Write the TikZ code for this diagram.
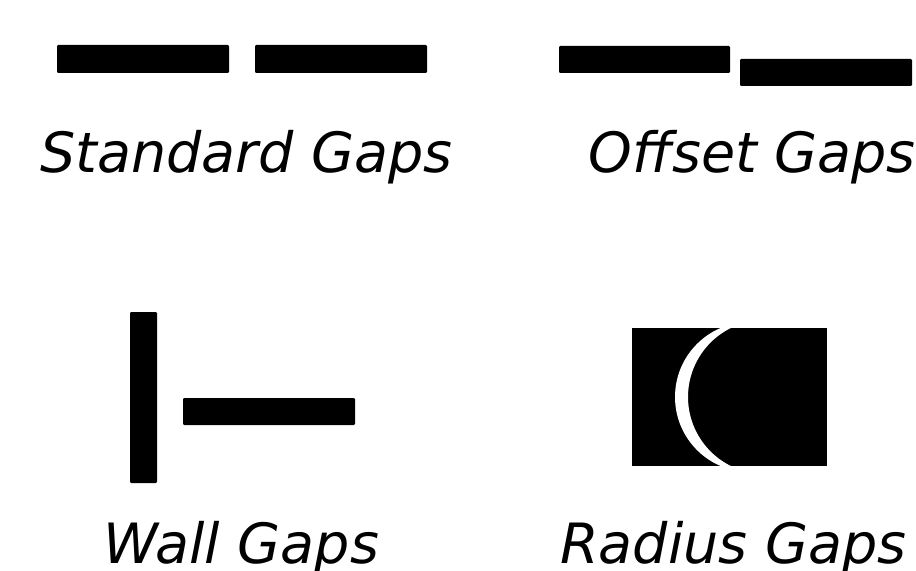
\documentclass[tikz,border=0pt]{standalone}
\usepackage{fontspec}
\setmainfont{DejaVu Sans}
\usetikzlibrary{positioning}

\begin{document}
\begin{tikzpicture}[
  x=0.02cm, y=-0.02cm,
  bar/.style={fill=black, rounded corners=0.6pt},
  caption/.style={font=\fontsize{31.6}{35}\selectfont\itshape,
                  inner sep=0pt, anchor=base west},
]
\useasboundingbox (0,0) rectangle (916,571);

%% -- Standard gaps ----------------------------------------------------------
\fill[bar] (57,45) rectangle (229,73);
\fill[bar] (255,45) rectangle (427,73);
\node[caption] (standard) at (40,173) {Standard Gaps};

%% -- Offset gaps ------------------------------------------------------------
\fill[bar] (559,46) rectangle (730,73);
\fill[bar] (740,59) rectangle (912,86);
\node[caption] (offset) at (588,173) {Offset Gaps};

%% -- Wall gaps --------------------------------------------------------------
\fill[bar] (130,312) rectangle (157,483);
\fill[bar] (183,398) rectangle (355,425);
\node[caption] (wall) at (103,563) {Wall Gaps};

%% -- Radius gaps ------------------------------------------------------------
\fill (632,328) rectangle (827,466);
\begin{scope}
  \clip (632,328) rectangle (827,466);
  \clip (750,397) circle[radius=75];
  % white crescent: inside the outer circle, outside the inner one
  \fill[white, even odd rule] (600,300) rectangle (900,500)
                              (765,397) circle[radius=77];
\end{scope}
\node[caption] (radius) at (560,563) {Radius Gaps};

\end{tikzpicture}
\end{document}
